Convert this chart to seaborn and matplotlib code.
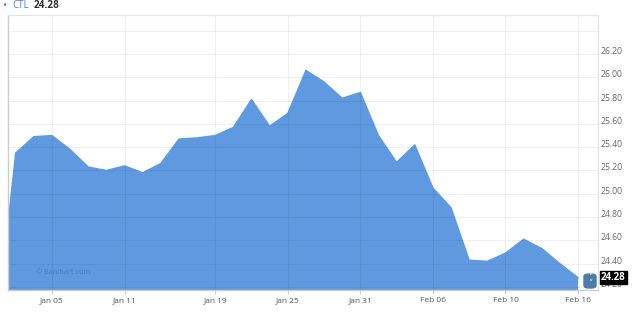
import matplotlib
matplotlib.use("Agg")
import matplotlib.pyplot as plt
import matplotlib.transforms as mtransforms
from matplotlib.patches import FancyBboxPatch
import seaborn as sns
import pandas as pd
import numpy as np

# ---- data ----
dates = ["2016-12-30",
         "2017-01-03", "2017-01-04", "2017-01-05", "2017-01-06", "2017-01-09",
         "2017-01-10", "2017-01-11", "2017-01-12", "2017-01-13", "2017-01-17",
         "2017-01-18", "2017-01-19", "2017-01-20", "2017-01-23", "2017-01-24",
         "2017-01-25", "2017-01-26", "2017-01-27", "2017-01-30", "2017-01-31",
         "2017-02-01", "2017-02-02", "2017-02-03", "2017-02-06", "2017-02-07",
         "2017-02-08", "2017-02-09", "2017-02-10", "2017-02-13", "2017-02-14",
         "2017-02-15", "2017-02-16"]
close = [23.91,
         25.35, 25.49, 25.50, 25.38, 25.23,
         25.20, 25.24, 25.18, 25.26, 25.47,
         25.48, 25.50, 25.57, 25.81, 25.58,
         25.69, 26.06, 25.96, 25.82, 25.87,
         25.50, 25.27, 25.42, 25.05, 24.88,
         24.43, 24.42, 24.49, 24.61, 24.53,
         24.40, 24.28]
tick_dates = ["2017-01-05", "2017-01-11", "2017-01-19", "2017-01-25",
              "2017-01-31", "2017-02-06", "2017-02-10", "2017-02-16"]
tick_labels = ["Jan 05", "Jan 11", "Jan 19", "Jan 25",
               "Jan 31", "Feb 06", "Feb 10", "Feb 16"]
y_ticks = [24.2, 24.4, 24.6, 24.8, 25.0, 25.2, 25.4, 25.6, 25.8, 26.0, 26.2, 26.4]
y_labels = ["24.20", "24.40", "24.60", "24.80", "25.00", "25.20",
            "25.40", "25.60", "25.80", "26.00", "26.20", ""]
symbol = "CTL"
last_price = "24.28"

df = pd.DataFrame({"date": pd.to_datetime(dates), "close": close})
df["idx"] = np.arange(len(df)) - 1  # trading-day ordinal, Jan 03 = 0
pos = {d: i for d, i in zip(df["date"], df["idx"])}
tick_pos = [pos[pd.Timestamp(d)] for d in tick_dates]

sns.set_theme(style="white")
plt.rcParams["font.family"] = ["Open Sans", "DejaVu Sans"]

fill_color = "#5f9ae0"
fig = plt.figure(figsize=(6.38, 3.12), dpi=100)
ax = fig.add_axes([7.5 / 638, 22 / 312, (598 - 7.5) / 638, (290 - 15) / 312])

ax.fill_between(df["idx"], df["close"], 0, color=fill_color, lw=0, zorder=1)
sns.lineplot(data=df, x="idx", y="close", ax=ax, color=fill_color, lw=1.0, zorder=1.5)

ax.set_xlim(-0.45, 32.1)
ax.set_ylim(24.174, 26.535)
ax.set_xlabel("")
ax.set_ylabel("")

# grid
for y in y_ticks:
    ax.axhline(y, color="#000000", alpha=0.06, lw=0.8, zorder=2)
for x in tick_pos:
    ax.axvline(x, color="#000000", alpha=0.06, lw=0.8, zorder=2)

# x ticks
ax.set_xticks(tick_pos)
ax.set_xticklabels(tick_labels)
ax.tick_params(axis="x", bottom=True, length=3, width=0.8, color="#cccccc",
               labelsize=6, labelcolor="#555555", pad=2)

# y ticks on right
ax.yaxis.tick_right()
ax.set_yticks(y_ticks)
ax.set_yticklabels(y_labels)
ax.tick_params(axis="y", right=False, left=False, length=0, labelsize=6.2,
               labelcolor="#666666", pad=2.2)
offset = mtransforms.ScaledTranslation(0, 3.5 / 100, fig.dpi_scale_trans)
for lab in ax.get_yticklabels():
    lab.set_transform(lab.get_transform() + offset)

for s in ["top", "right"]:
    ax.spines[s].set_color("#e4e4e4")
    ax.spines[s].set_linewidth(0.9)
for s in ["left", "bottom"]:
    ax.spines[s].set_color("#cccccc")
    ax.spines[s].set_linewidth(1.0)

# watermark
fig.text(36 / 638, 1 - 272 / 312, "© Barchart.com",
         fontsize=5.2, color="#3f6fa8", alpha=0.75, va="center", ha="left", zorder=5)

# header
fig.text(2 / 638, 1 - 6 / 312, "•", fontsize=8, color="#4a7ec4", va="center", ha="left")
fig.text(12 / 638, 1 - 6 / 312, symbol, fontsize=7, color="#4a7ec4", va="center", ha="left")
fig.text(34 / 638, 1 - 6 / 312, last_price, fontsize=7.2, color="#333333",
         fontweight="bold", va="center", ha="left")

# last-price marker box on the right axis
last_val = close[-1]
ax.annotate(last_price, xy=(1.0, last_val), xycoords=("axes fraction", "data"),
            xytext=(3, 0), textcoords="offset pixels", fontsize=7,
            fontweight="bold", color="white", va="center", ha="left",
            bbox=dict(boxstyle="square,pad=0.12", fc="black", ec="black"),
            zorder=10, annotation_clip=False)

# scroll button
btn = FancyBboxPatch((584 / 638, (312 - 288) / 312), 12 / 638, 14 / 312,
                     boxstyle="round,pad=0,rounding_size=0.008",
                     transform=fig.transFigure, fc="#4d7aa6", ec="#4d7aa6", zorder=10)
fig.patches.append(btn)
fig.text(590 / 638, (312 - 280.5) / 312, "˄\n˅", fontsize=6, color="white",
         ha="center", va="center", family="DejaVu Sans", zorder=11, linespacing=0.7)

fig.savefig("out.png", dpi=100)
